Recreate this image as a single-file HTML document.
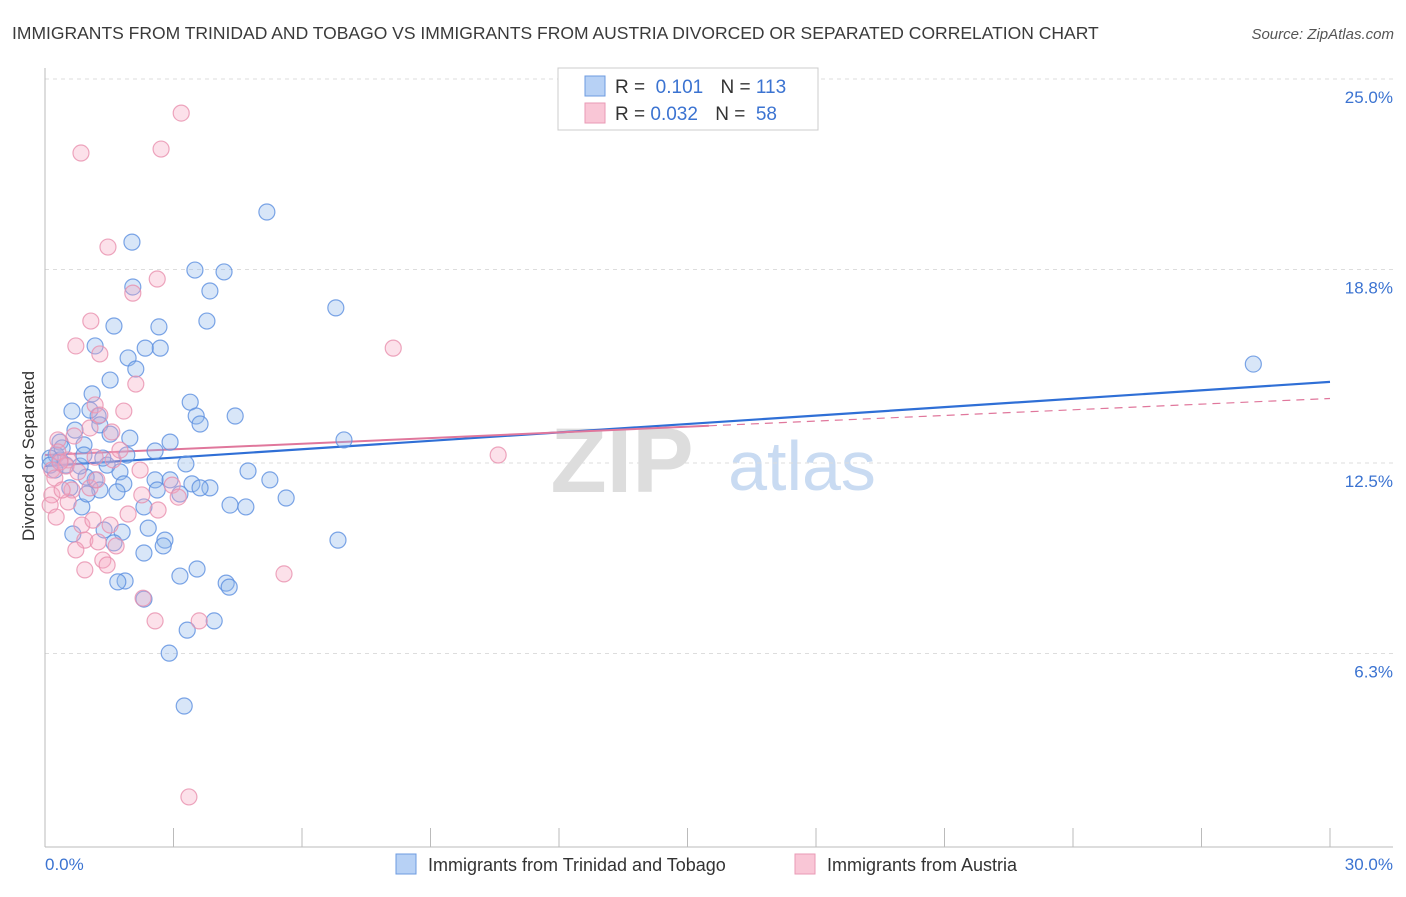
<!DOCTYPE html>
<html><head><meta charset="utf-8"><style>
body{margin:0;background:#fff;font-family:"Liberation Sans",sans-serif;}
svg text{font-family:"Liberation Sans",sans-serif;}
</style></head><body>
<svg id="chart" width="1406" height="892" xmlns="http://www.w3.org/2000/svg">
<text x="12" y="39" font-size="17.5" fill="#3a3a3a">IMMIGRANTS FROM TRINIDAD AND TOBAGO VS IMMIGRANTS FROM AUSTRIA DIVORCED OR SEPARATED CORRELATION CHART</text>
<text x="1394" y="39" font-size="15" fill="#555" font-style="italic" text-anchor="end">Source: ZipAtlas.com</text>
<g>
<text x="622" y="492" font-size="92" fill="#ddd" font-family="Liberation Serif" text-anchor="middle" font-weight="bold">ZIP</text>
<text x="802" y="490" font-size="70" fill="#c9dbf2" text-anchor="middle">atlas</text>
</g>
<g id="grid"></g>
<g id="axes"></g>
<g id="trend"></g>
<g id="pts"></g>
<text transform="translate(34,456) rotate(-90)" font-size="17" fill="#333" text-anchor="middle">Divorced or Separated</text>
<text x="45" y="870" font-size="17" fill="#3b73d1">0.0%</text>
<text x="1393" y="870" font-size="17" fill="#3b73d1" text-anchor="end">30.0%</text>
<g>
<rect x="558" y="68" width="260" height="62" fill="#fff" stroke="#ccc"/>
<rect x="585" y="76" width="20" height="20" fill="#b7d1f5" stroke="#6d9be0"/>
<rect x="585" y="103" width="20" height="20" fill="#f9c6d6" stroke="#e99ab5"/>
<text x="615" y="93" font-size="19" fill="#333">R = <tspan fill="#3b73d1">&#160;0.101</tspan>   <tspan dx="12">N = </tspan><tspan fill="#3b73d1">113</tspan></text>
<text x="615" y="120" font-size="19" fill="#333">R = <tspan fill="#3b73d1">0.032</tspan>   <tspan dx="12">N = </tspan><tspan fill="#3b73d1">&#160;58</tspan></text>
</g>
<g>
<rect x="396" y="854" width="20" height="20" fill="#b7d1f5" stroke="#6d9be0"/>
<text x="428" y="871" font-size="18" fill="#333">Immigrants from Trinidad and Tobago</text>
<rect x="795" y="854" width="20" height="20" fill="#f9c6d6" stroke="#e99ab5"/>
<text x="827" y="871" font-size="18" fill="#333">Immigrants from Austria</text>
</g>
</svg>
<script>
const yTicks=[25.0,18.8,12.5,6.3];
const yTickLabels=["25.0%","18.8%","12.5%","6.3%"];
const xTicks=[0,3,6,9,12,15,18,21,24,27,30];
const blueX=[5.18,2.03,3.50,4.18,2.05,3.85,6.79,3.78,1.61,2.66,1.17,2.69,2.34,1.94,2.12,1.52,1.10,3.39,3.53,4.44,0.63,3.62,1.24,1.05,1.28,1.98,1.52,2.92,2.57,0.91,0.35,0.70,6.98,1.91,3.29,4.74,5.25,1.75,1.17,1.84,2.57,2.92,3.43,3.85,3.62,3.15,1.68,0.96,1.28,2.62,4.32,4.69,5.63,2.31,0.86,0.65,1.38,1.80,2.41,6.84,1.61,2.80,2.76,2.31,3.55,3.15,1.87,1.70,4.23,4.30,2.31,3.95,3.32,2.90,3.25,28.21,0.26,0.35,0.12,0.49,0.82,1.45,0.40,0.91,0.23,0.58,0.98,1.35,0.12];
const blueY=[20.67,19.69,18.78,18.72,18.23,18.10,17.55,17.12,16.96,16.93,16.31,16.24,16.24,15.92,15.56,15.20,14.75,14.48,14.03,14.03,14.19,13.77,14.03,14.22,13.74,13.31,13.44,13.18,12.89,13.09,13.18,13.57,13.25,12.76,12.47,12.24,11.95,12.21,11.95,11.82,11.95,11.95,11.82,11.69,11.69,11.49,11.56,12.04,11.62,11.62,11.13,11.07,11.36,11.07,11.07,10.19,10.32,10.25,10.38,9.99,9.90,9.99,9.80,9.57,9.05,8.82,8.66,8.63,8.59,8.46,8.07,7.36,7.06,6.31,4.59,15.72,12.76,12.60,12.66,12.43,12.40,12.43,12.99,12.76,12.27,11.69,11.49,12.66,12.43];
const pinkX=[3.18,0.84,2.71,1.47,2.62,2.05,1.07,8.13,0.72,1.28,2.12,1.84,1.17,1.28,1.56,0.30,1.05,0.68,0.30,0.54,1.59,10.58,1.17,0.16,0.23,0.63,1.05,0.16,2.26,2.97,3.11,0.12,0.26,0.54,1.21,0.86,1.12,0.93,1.66,1.94,1.24,1.35,0.72,1.45,0.93,5.58,2.29,2.57,3.60,3.36,0.49,0.35,0.77,1.52,1.75,2.64,2.22,0.40];
const pinkY=[23.89,22.59,22.72,19.53,18.49,18.03,17.12,16.24,16.31,16.05,15.07,14.19,14.39,14.06,13.51,13.25,13.64,13.38,12.86,12.60,12.60,12.76,12.69,12.27,12.01,11.62,11.69,11.46,11.46,11.78,11.39,11.13,10.74,11.23,11.95,10.48,10.64,9.99,9.80,10.84,9.93,9.34,9.67,9.18,9.02,8.89,8.10,7.36,7.36,1.63,12.40,12.53,12.21,10.48,12.92,10.97,12.27,11.62];
const blueTrend=[12.4,15.14];
const pinkTrend=[12.76,14.6];
const NS="http://www.w3.org/2000/svg";
const X0=45,X1=1330,Y0=847,PXY=30.72;
function sx(v){return X0+v*(X1-X0)/30;}
function sy(v){return Y0-v*PXY;}
function mk(tag,attrs,parent){const e=document.createElementNS(NS,tag);for(const k in attrs)e.setAttribute(k,attrs[k]);document.getElementById(parent).appendChild(e);return e;}
yTicks.forEach((t,i)=>{
 const l=mk('line',{x1:45,x2:1393,y1:sy(t),y2:sy(t),stroke:'#ddd','stroke-dasharray':'4,4'},'grid');
 
 
 const tx=mk('text',{x:1393,y:sy(t)+24,'font-size':17,fill:'#3b73d1','text-anchor':'end'},'grid');
 tx.textContent=yTickLabels[i];
 
 
});
const ax=mk('line',{x1:45,x2:45,y1:68,y2:847,stroke:'#bbb'},'axes');


const bx=mk('line',{x1:45,x2:1393,y1:847,y2:847,stroke:'#bbb'},'axes');


xTicks.forEach(t=>{
 const l=mk('line',{x1:sx(t),x2:sx(t),y1:828,y2:847,stroke:'#bbb'},'axes');
 
 
});
function dots(xs,ys,fill,stroke,name){
 xs.forEach((x,i)=>{
  const c=mk('circle',{cx:sx(x),cy:sy(ys[i]),r:8,fill:fill,'fill-opacity':0.35,stroke:stroke,'stroke-width':1.2,'stroke-opacity':0.8},'pts');
  
  
 });
}
dots(blueX,blueY,'#8fb6ec','#5b8fe0','blue-point');
dots(pinkX,pinkY,'#f5a9c3','#e890ae','pink-point');
const bt=mk('line',{x1:sx(0),y1:sy(blueTrend[0]),x2:sx(30),y2:sy(blueTrend[1]),stroke:'#2f6fd6','stroke-width':2.2},'trend');


const mid=15.5, pm=pinkTrend[0]+(pinkTrend[1]-pinkTrend[0])*mid/30;
const pt=mk('line',{x1:sx(0),y1:sy(pinkTrend[0]),x2:sx(mid),y2:sy(pm),stroke:'#e0779c','stroke-width':2},'trend');


const pd=mk('line',{x1:sx(mid),y1:sy(pm),x2:sx(30),y2:sy(pinkTrend[1]),stroke:'#e0779c','stroke-width':1.2,'stroke-dasharray':'8,6'},'trend');


</script>
</body></html>
